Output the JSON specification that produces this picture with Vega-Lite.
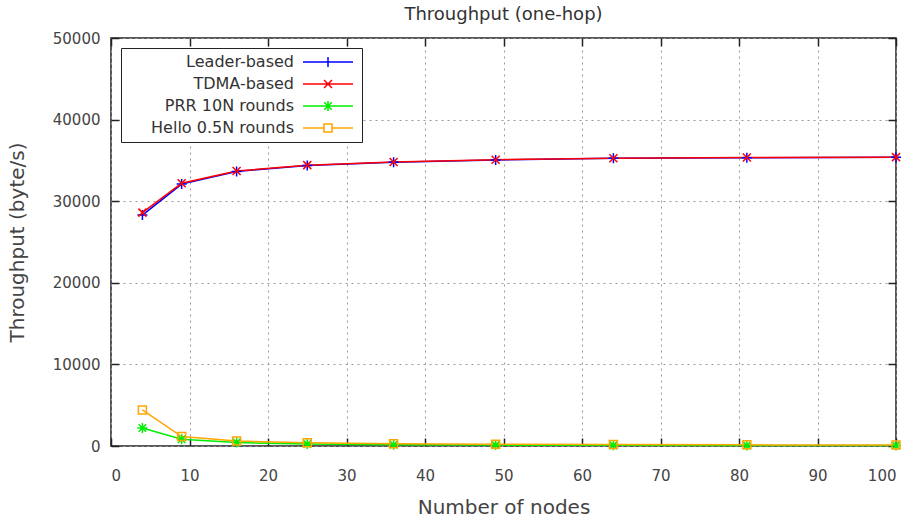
{
  "$schema": "https://vega.github.io/schema/vega-lite/v6.json",
  "width": 785,
  "height": 408,
  "autosize": {"type": "none"},
  "padding": {"left": 111, "top": 38, "right": 21, "bottom": 75},
  "background": "white",
  "title": {"text": "Throughput (one-hop)", "font": "DejaVu Sans", "fontSize": 18, "fontWeight": "normal", "color": "#333", "offset": 7, "anchor": "middle"},
  "config": {
    "view": {"stroke": "#222", "strokeWidth": 1.5},
    "font": "DejaVu Sans",
    "axis": {"labelFont": "DejaVu Sans", "titleFont": "DejaVu Sans", "labelColor": "#444", "titleColor": "#444", "labelFontSize": 15, "titleFontSize": 20, "titleFontWeight": "normal", "domain": false, "tickColor": "#222", "tickWidth": 1.5, "tickSize": -8, "gridColor": "#999", "gridDash": [2, 4], "gridWidth": 1}
  },
  "resolve": {"axis": {"x": "independent", "y": "independent"}, "scale": {"color": "independent", "shape": "independent"}},
  "data": {"values": [
    {"n": 4, "series": "Leader-based", "v": 28300},
    {"n": 9, "series": "Leader-based", "v": 32100},
    {"n": 16, "series": "Leader-based", "v": 33650},
    {"n": 25, "series": "Leader-based", "v": 34380},
    {"n": 36, "series": "Leader-based", "v": 34760},
    {"n": 49, "series": "Leader-based", "v": 35050},
    {"n": 64, "series": "Leader-based", "v": 35250},
    {"n": 81, "series": "Leader-based", "v": 35330},
    {"n": 100, "series": "Leader-based", "v": 35380},
    {"n": 4, "series": "TDMA-based", "v": 28600},
    {"n": 9, "series": "TDMA-based", "v": 32200},
    {"n": 16, "series": "TDMA-based", "v": 33700},
    {"n": 25, "series": "TDMA-based", "v": 34420},
    {"n": 36, "series": "TDMA-based", "v": 34800},
    {"n": 49, "series": "TDMA-based", "v": 35080},
    {"n": 64, "series": "TDMA-based", "v": 35270},
    {"n": 81, "series": "TDMA-based", "v": 35350},
    {"n": 100, "series": "TDMA-based", "v": 35400},
    {"n": 4, "series": "PRR 10N rounds", "v": 2200},
    {"n": 9, "series": "PRR 10N rounds", "v": 820},
    {"n": 16, "series": "PRR 10N rounds", "v": 420},
    {"n": 25, "series": "PRR 10N rounds", "v": 250},
    {"n": 36, "series": "PRR 10N rounds", "v": 160},
    {"n": 49, "series": "PRR 10N rounds", "v": 110},
    {"n": 64, "series": "PRR 10N rounds", "v": 80},
    {"n": 81, "series": "PRR 10N rounds", "v": 60},
    {"n": 100, "series": "PRR 10N rounds", "v": 50},
    {"n": 4, "series": "Hello 0.5N rounds", "v": 4420},
    {"n": 9, "series": "Hello 0.5N rounds", "v": 1150},
    {"n": 16, "series": "Hello 0.5N rounds", "v": 620},
    {"n": 25, "series": "Hello 0.5N rounds", "v": 400},
    {"n": 36, "series": "Hello 0.5N rounds", "v": 290},
    {"n": 49, "series": "Hello 0.5N rounds", "v": 220},
    {"n": 64, "series": "Hello 0.5N rounds", "v": 170},
    {"n": 81, "series": "Hello 0.5N rounds", "v": 140},
    {"n": 100, "series": "Hello 0.5N rounds", "v": 110}
  ]},
  "layer": [
    {
      "mark": {"type": "line", "strokeWidth": 1.5},
      "encoding": {
        "x": {"field": "n", "type": "quantitative", "scale": {"domain": [0, 100], "nice": false}, "axis": {"values": [0,10,20,30,40,50,60,70,80,90,100], "title": "Number of nodes", "grid": true, "labelPadding": 30, "titlePadding": 14}},
        "y": {"field": "v", "type": "quantitative", "scale": {"domain": [0, 50000], "nice": false}, "axis": {"values": [0,10000,20000,30000,40000,50000], "format": "d", "title": "Throughput (byte/s)", "grid": true, "labelPadding": 19, "titlePadding": 25}},
        "color": {"field": "series", "type": "nominal", "scale": {"domain": ["Leader-based", "TDMA-based", "PRR 10N rounds", "Hello 0.5N rounds"], "range": ["#0000ff", "#ff0000", "#00ee00", "#ffa500"]}, "legend": null}
      }
    },
    {
      "mark": {"type": "point", "filled": false, "strokeWidth": 1.5, "size": 100, "opacity": 1},
      "encoding": {
        "x": {"field": "n", "type": "quantitative", "axis": {"orient": "top", "values": [0,10,20,30,40,50,60,70,80,90,100], "labels": false, "title": null, "grid": false}},
        "y": {"field": "v", "type": "quantitative", "axis": {"orient": "right", "values": [0,10000,20000,30000,40000,50000], "labels": false, "title": null, "grid": false}},
        "color": {"field": "series", "type": "nominal", "scale": {"domain": ["Leader-based", "TDMA-based", "PRR 10N rounds", "Hello 0.5N rounds"], "range": ["#0000ff", "#ff0000", "#00ee00", "#ffa500"]}, "legend": null},
        "shape": {"field": "series", "type": "nominal", "scale": {"domain": ["Leader-based", "TDMA-based", "PRR 10N rounds", "Hello 0.5N rounds"], "range": ["M-1,0L1,0M0,-1L0,1", "M-0.8,-0.8L0.8,0.8M-0.8,0.8L0.8,-0.8", "M-1,0L1,0M0,-1L0,1M-0.75,-0.75L0.75,0.75M-0.75,0.75L0.75,-0.75", "M-0.8,-0.8L0.8,-0.8L0.8,0.8L-0.8,0.8Z"]}, "legend": null}
      }
    },
    {
      "mark": {"type": "point", "filled": false, "strokeWidth": 1.5, "size": 100, "opacity": 0},
      "encoding": {
        "x": {"field": "n", "type": "quantitative", "axis": null},
        "y": {"field": "v", "type": "quantitative", "axis": null},
        "color": {"field": "series", "type": "nominal", "scale": {"domain": ["Leader-based", "TDMA-based", "PRR 10N rounds", "Hello 0.5N rounds"], "range": ["#0000ff", "#ff0000", "#00ee00", "#ffa500"]},
          "legend": {"title": null, "orient": "none", "legendX": 10, "legendY": 10, "strokeColor": "#222", "fillColor": "white", "padding": 6, "labelFontSize": 16, "labelColor": "#333", "labelFont": "DejaVu Sans", "labelAlign": "right", "symbolOffset": 193, "labelOffset": -42, "symbolSize": 100, "symbolStrokeWidth": 1.5, "symbolOpacity": 1, "rowPadding": 6}},
        "shape": {"field": "series", "type": "nominal", "scale": {"domain": ["Leader-based", "TDMA-based", "PRR 10N rounds", "Hello 0.5N rounds"], "range": ["M-5,0L5,0M0,-1L0,1", "M-5,0L5,0M-0.8,-0.8L0.8,0.8M-0.8,0.8L0.8,-0.8", "M-5,0L5,0M0,-1L0,1M-0.75,-0.75L0.75,0.75M-0.75,0.75L0.75,-0.75", "M-5,0L-0.8,0M0.8,0L5,0M-0.8,-0.8L0.8,-0.8L0.8,0.8L-0.8,0.8Z"]},
          "legend": {"title": null, "orient": "none", "legendX": 10, "legendY": 10, "strokeColor": "#222", "fillColor": "white", "padding": 6, "labelFontSize": 16, "labelColor": "#333", "labelFont": "DejaVu Sans", "labelAlign": "right", "symbolOffset": 193, "labelOffset": -42, "symbolSize": 100, "symbolStrokeWidth": 1.5, "symbolOpacity": 1, "rowPadding": 6}}
      }
    }
  ]
}
